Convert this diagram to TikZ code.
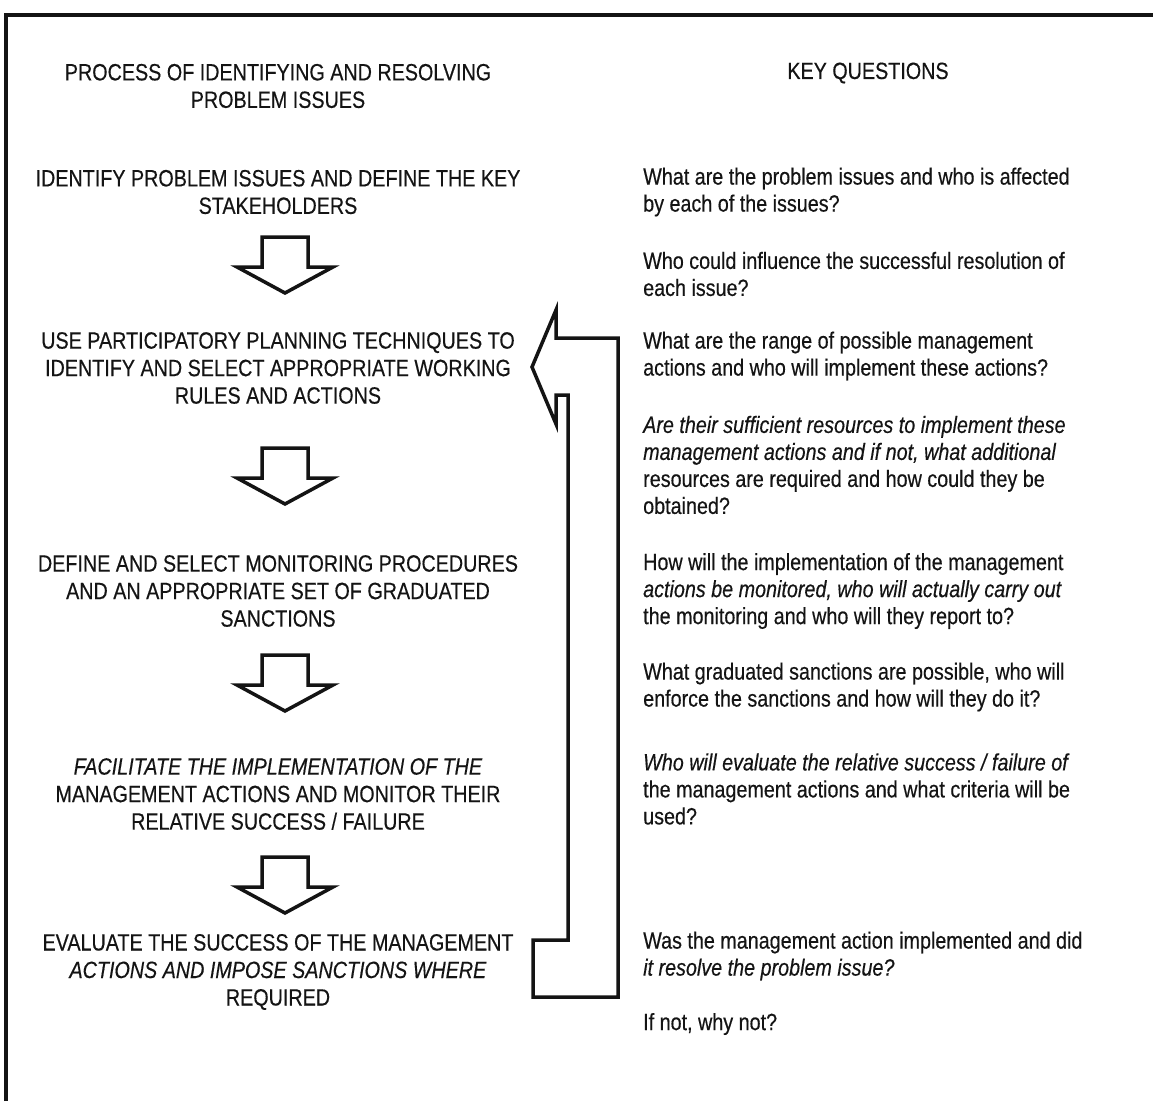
\documentclass[tikz,border=0pt]{standalone}
\usepackage{fontspec}
\setmainfont[FakeStretch=0.84,FakeBold=0.4]{Liberation Sans}
\begin{document}
\begin{tikzpicture}[x=1pt,y=-1pt]
\useasboundingbox (0,0) rectangle (1153,1101);
\definecolor{ink}{HTML}{141414}
\tikzset{
  lefttext/.style={align=center, text=ink, font=\fontsize{23.5}{27.5}\selectfont, inner sep=0pt, anchor=center},
  righttext/.style={align=left, text=ink, font=\fontsize{23.5}{27}\selectfont, inner sep=0pt, anchor=west},
  blockarrow/.style={draw=ink, line width=3.5pt, line join=miter, fill=white},
  frameline/.style={draw=ink, line width=3.5pt},
  downblk/.pic={\path[blockarrow] (-23,0) -- (23,0) -- (23,30) -- (48,30) -- (0,56) -- (-48,30) -- (-23,30) -- cycle;}
}
% frame
\coordinate (fTL) at (6,15);
\coordinate (fTR) at (1153,15);
\coordinate (fBL) at (6,1101);
\path[frameline] (fBL) -- (fTL) -- (fTR);

% headings
\node[lefttext] (h1) at (278,86) {PROCESS OF IDENTIFYING AND RESOLVING\\PROBLEM ISSUES};
\node[lefttext] (h2) at (868,73) {KEY QUESTIONS};

% process steps
\node[lefttext] (s1) at (278,192) {IDENTIFY PROBLEM ISSUES AND DEFINE THE KEY\\STAKEHOLDERS};
\node[lefttext] (s2) at (278,368) {USE PARTICIPATORY PLANNING TECHNIQUES TO\\IDENTIFY AND SELECT APPROPRIATE WORKING\\RULES AND ACTIONS};
\node[lefttext] (s3) at (278,591) {DEFINE AND SELECT MONITORING PROCEDURES\\AND AN APPROPRIATE SET OF GRADUATED\\SANCTIONS};
\node[lefttext] (s4) at (278,794) {\textit{FACILITATE THE IMPLEMENTATION OF THE}\\MANAGEMENT ACTIONS AND MONITOR THEIR\\RELATIVE SUCCESS / FAILURE};
\node[lefttext] (s5) at (278,972) {EVALUATE THE SUCCESS OF THE MANAGEMENT\\\textit{ACTIONS AND IMPOSE SANCTIONS WHERE}\\REQUIRED};

% down arrows
\pic (a1) at (285,237) {downblk};
\pic (a2) at (285,448) {downblk};
\pic (a3) at (285,655) {downblk};
\pic (a4) at (285,857) {downblk};

% feedback arrow
\coordinate (r1) at (556,310);
\coordinate (r2) at (532,367);
\coordinate (r3) at (556,424);
\coordinate (r4) at (556,395);
\coordinate (r5) at (568,395);
\coordinate (r6) at (568,940);
\coordinate (r7) at (533,940);
\coordinate (r8) at (533,997);
\coordinate (r9) at (618,997);
\coordinate (r10) at (618,338);
\coordinate (r11) at (556,338);
\path[blockarrow] (r1) -- (r2) -- (r3) -- (r4) -- (r5) -- (r6) -- (r7) -- (r8) -- (r9) -- (r10) -- (r11) -- cycle;

% key questions
\node[righttext] (q1) at (643,192) {What are the problem issues and who is affected\\by each of the issues?};
\node[righttext] (q2) at (643,274) {Who could influence the successful resolution of\\each issue?};
\node[righttext] (q3) at (643,356) {What are the range of possible management\\actions and who will implement these actions?};
\node[righttext] (q4) at (643,465) {\textit{Are their sufficient resources to implement these}\\\textit{management actions and if not, what additional}\\resources are required and how could they be\\obtained?};
\node[righttext] (q5) at (643,591) {How will the implementation of the management\\\textit{actions be monitored, who will actually carry out}\\the monitoring and who will they report to?};
\node[righttext] (q6) at (643,687) {What graduated sanctions are possible, who will\\enforce the sanctions and how will they do it?};
\node[righttext] (q7) at (643,789) {\textit{Who will evaluate the relative success / failure of}\\the management actions and what criteria will be\\used?};
\node[righttext] (q8) at (643,956) {Was the management action implemented and did\\\textit{it resolve the problem issue?}};
\node[righttext] (q9) at (643,1024) {If not, why not?};
\end{tikzpicture}
\end{document}
